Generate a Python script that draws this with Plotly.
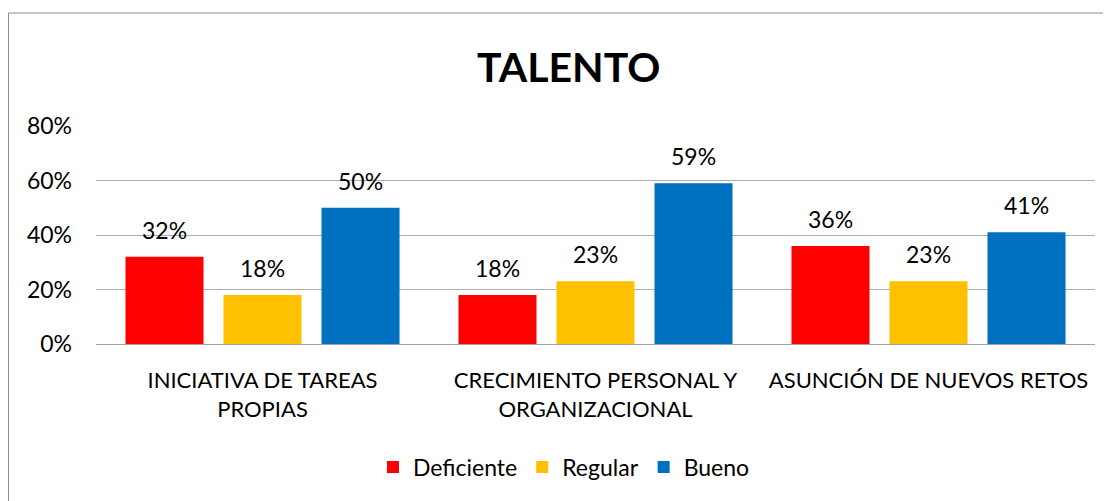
import plotly.graph_objects as go

categories = ["INICIATIVA DE TAREAS<br>PROPIAS", "CRECIMIENTO PERSONAL Y<br>ORGANIZACIONAL", "ASUNCIÓN DE NUEVOS RETOS"]
series_names = ["Deficiente", "Regular", "Bueno"]
deficiente = [0.32, 0.18, 0.36]
regular = [0.18, 0.23, 0.23]
bueno = [0.50, 0.59, 0.41]
colors = ["#FF0000", "#FFC000", "#0070C0"]
y_ticks = [0, 0.2, 0.4, 0.6, 0.8]
y_tick_labels = ["0%", "20%", "40%", "60%", "80%"]

FONT = "Lato"
OFF = 8  # page body margin offset
W, H = 1111 - OFF, 501 - OFF
ML, MR, MT, MB = 96 - OFF, 16, 126 - OFF, 157
plot_w = W - ML - MR
plot_h = H - MT - MB

fig = go.Figure()
all_series = [deficiente, regular, bueno]
for name, vals, col in zip(series_names, all_series, colors):
    fig.add_trace(go.Bar(x=categories, y=vals, name=name, marker=dict(color=col, line=dict(width=0))))

bargap = 0.117
slot = plot_w / 3 * (1 - bargap) / 3
annotations = []
for i, vals in enumerate(all_series):
    for c, v in zip(categories, vals):
        annotations.append(dict(x=c, y=v, xref="x", yref="y", text=f"{round(v*100)}%",
                                showarrow=False, yanchor="middle", yshift=27,
                                xshift=(i - 1) * slot,
                                font=dict(family=FONT, size=23, color="#000000")))

title_y = (H - MB - (66 - OFF)) / plot_h
title_x = ((568 - OFF) - ML) / plot_w
annotations.append(dict(text="<b>TALENTO</b>", x=title_x, y=title_y, xref="paper", yref="paper",
                        xanchor="center", yanchor="middle",
                        showarrow=False, font=dict(family=FONT, size=41, color="#000000")))

fig.update_layout(
    width=W, height=H,
    margin=dict(l=ML, r=MR, t=MT, b=MB, autoexpand=False),
    paper_bgcolor="white", plot_bgcolor="white",
    barmode="group", bargap=bargap, bargroupgap=0.204,
    font=dict(family=FONT, size=23, color="#000000"),
    showlegend=True,
    legend=dict(orientation="h", x=(564 - OFF) / W, xref="container", xanchor="center",
                y=1 - (467 - OFF) / H, yref="container", yanchor="middle",
                font=dict(family=FONT, size=23), itemwidth=30, tracegroupgap=0),
    annotations=annotations,
    shapes=[dict(type="rect", xref="paper", yref="paper",
                 x0=(0.5 - ML) / plot_w, x1=1.2, y0=-1.5, y1=(H - MB - (13 - OFF)) / plot_h,
                 line=dict(color="#8C8C8C", width=1), fillcolor="rgba(0,0,0,0)", layer="below")],
)
fig.update_yaxes(range=[0, 0.8], tickvals=y_ticks, ticktext=y_tick_labels,
                 showgrid=True, gridcolor="#ADADAD", gridwidth=1,
                 zeroline=False, showline=False, ticklabelstandoff=23,
                 tickfont=dict(family=FONT, size=23))
fig.update_xaxes(showline=True, linecolor="#A0A0A0", linewidth=1, ticks="",
                 ticklabelstandoff=17, tickfont=dict(family=FONT, size=22))
fig.write_html("out.html")
